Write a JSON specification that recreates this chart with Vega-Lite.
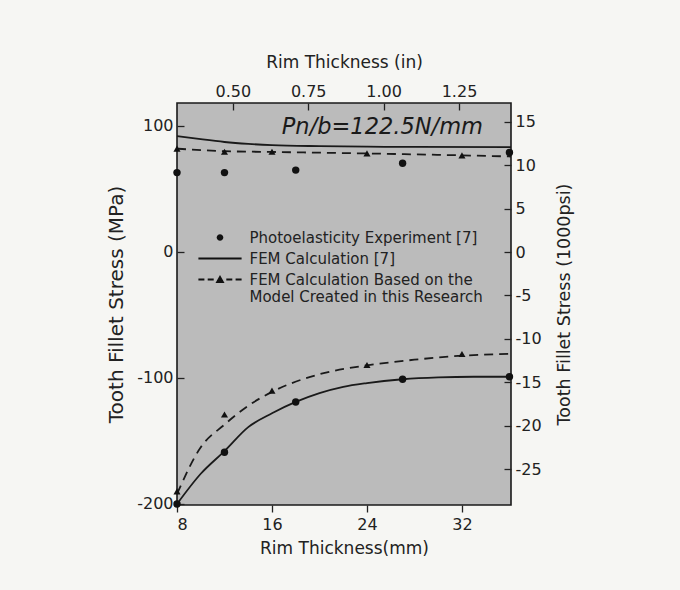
{
  "$schema": "https://vega.github.io/schema/vega-lite/v6.json",
  "width": 334,
  "height": 402,
  "autosize": {"type": "none"},
  "padding": {"left": 177, "top": 103, "right": 169, "bottom": 85},
  "background": "#f6f6f3",
  "config": {
    "view": {"fill": "#bbbbbb", "stroke": "#1a1a1a", "strokeWidth": 1.6},
    "font": "DejaVu Sans",
    "style": {"guide-label": {"lineHeight": 17}},
    "axis": {
      "domain": false, "grid": false, "ticks": true, "tickSize": 7, "offset": -7, "tickColor": "#222", "tickWidth": 1.3, "tickOpacity": 1, "zindex": 1,
      "labelFont": "DejaVu Sans", "labelFontSize": 16, "labelColor": "#222", "labelPadding": 4,
      "titleFont": "DejaVu Sans", "titleFontWeight": "normal", "titleColor": "#222"
    }
  },
  "datasets": {
    "curves": [
      {"series": "FEM Calculation [7]", "branch": "upper", "mm": 8, "mpa": 92},
      {"series": "FEM Calculation [7]", "branch": "upper", "mm": 10, "mpa": 89.5},
      {"series": "FEM Calculation [7]", "branch": "upper", "mm": 12, "mpa": 87.3},
      {"series": "FEM Calculation [7]", "branch": "upper", "mm": 14, "mpa": 85.8},
      {"series": "FEM Calculation [7]", "branch": "upper", "mm": 16, "mpa": 84.8},
      {"series": "FEM Calculation [7]", "branch": "upper", "mm": 20, "mpa": 84},
      {"series": "FEM Calculation [7]", "branch": "upper", "mm": 24, "mpa": 83.6},
      {"series": "FEM Calculation [7]", "branch": "upper", "mm": 28, "mpa": 83.4},
      {"series": "FEM Calculation [7]", "branch": "upper", "mm": 36.13, "mpa": 83.3},
      {"series": "FEM Calculation [7]", "branch": "lower", "mm": 8, "mpa": -200},
      {"series": "FEM Calculation [7]", "branch": "lower", "mm": 10, "mpa": -176},
      {"series": "FEM Calculation [7]", "branch": "lower", "mm": 12, "mpa": -158},
      {"series": "FEM Calculation [7]", "branch": "lower", "mm": 14, "mpa": -139},
      {"series": "FEM Calculation [7]", "branch": "lower", "mm": 16, "mpa": -128},
      {"series": "FEM Calculation [7]", "branch": "lower", "mm": 18, "mpa": -119},
      {"series": "FEM Calculation [7]", "branch": "lower", "mm": 20, "mpa": -112},
      {"series": "FEM Calculation [7]", "branch": "lower", "mm": 22, "mpa": -107},
      {"series": "FEM Calculation [7]", "branch": "lower", "mm": 24, "mpa": -104},
      {"series": "FEM Calculation [7]", "branch": "lower", "mm": 27, "mpa": -101},
      {"series": "FEM Calculation [7]", "branch": "lower", "mm": 30, "mpa": -99.5},
      {"series": "FEM Calculation [7]", "branch": "lower", "mm": 33, "mpa": -99},
      {"series": "FEM Calculation [7]", "branch": "lower", "mm": 36.13, "mpa": -99},
      {"series": "FEM Calculation Based on the Model Created in this Research", "branch": "upper", "mm": 8, "mpa": 82},
      {"series": "FEM Calculation Based on the Model Created in this Research", "branch": "upper", "mm": 12, "mpa": 80},
      {"series": "FEM Calculation Based on the Model Created in this Research", "branch": "upper", "mm": 16, "mpa": 79.4},
      {"series": "FEM Calculation Based on the Model Created in this Research", "branch": "upper", "mm": 24, "mpa": 78.2},
      {"series": "FEM Calculation Based on the Model Created in this Research", "branch": "upper", "mm": 32, "mpa": 76.7},
      {"series": "FEM Calculation Based on the Model Created in this Research", "branch": "upper", "mm": 36.13, "mpa": 75.8},
      {"series": "FEM Calculation Based on the Model Created in this Research", "branch": "lower", "mm": 8, "mpa": -192},
      {"series": "FEM Calculation Based on the Model Created in this Research", "branch": "lower", "mm": 10, "mpa": -155},
      {"series": "FEM Calculation Based on the Model Created in this Research", "branch": "lower", "mm": 12, "mpa": -137},
      {"series": "FEM Calculation Based on the Model Created in this Research", "branch": "lower", "mm": 14, "mpa": -122},
      {"series": "FEM Calculation Based on the Model Created in this Research", "branch": "lower", "mm": 16, "mpa": -111},
      {"series": "FEM Calculation Based on the Model Created in this Research", "branch": "lower", "mm": 20, "mpa": -97},
      {"series": "FEM Calculation Based on the Model Created in this Research", "branch": "lower", "mm": 24, "mpa": -90},
      {"series": "FEM Calculation Based on the Model Created in this Research", "branch": "lower", "mm": 28, "mpa": -85.5},
      {"series": "FEM Calculation Based on the Model Created in this Research", "branch": "lower", "mm": 32, "mpa": -82.3},
      {"series": "FEM Calculation Based on the Model Created in this Research", "branch": "lower", "mm": 36.13, "mpa": -80.8}
    ],
    "photo": [
      {"mm": 8, "mpa": 63}, {"mm": 12, "mpa": 63}, {"mm": 18, "mpa": 65}, {"mm": 27, "mpa": 70.4}, {"mm": 36, "mpa": 79},
      {"mm": 8, "mpa": -200}, {"mm": 12, "mpa": -159}, {"mm": 18, "mpa": -119}, {"mm": 27, "mpa": -101}, {"mm": 36, "mpa": -99}
    ],
    "research": [
      {"mm": 8, "mpa": 82}, {"mm": 12, "mpa": 79.6}, {"mm": 16, "mpa": 79.6}, {"mm": 24, "mpa": 78.3}, {"mm": 32, "mpa": 76.7},
      {"mm": 8, "mpa": -190}, {"mm": 12, "mpa": -129}, {"mm": 16, "mpa": -110}, {"mm": 24, "mpa": -89.7}, {"mm": 32, "mpa": -81}
    ],
    "note": [
      {"label": "Pn/b=122.5N/mm", "mm": 25.3, "mpa": 99}
    ],
    "legendrows": [
      {"series": "Photoelasticity Experiment [7]", "inch": 0.5, "ksi": 0},
      {"series": "FEM Calculation [7]", "inch": 0.5, "ksi": 0},
      {"series": "FEM Calculation Based on the Model Created in this Research", "inch": 0.5, "ksi": 0}
    ],
    "mpaTicks": [{"mpa": 100}, {"mpa": 0}, {"mpa": -100}],
    "mmTicks": [{"mm": 16}, {"mm": 24}, {"mm": 32}],
    "ksiTicks": [{"ksi": 15}, {"ksi": 10}, {"ksi": 5}, {"ksi": 0}, {"ksi": -5}, {"ksi": -10}, {"ksi": -15}, {"ksi": -20}, {"ksi": -25}],
    "inchTicks": [{"inch": 0.5}, {"inch": 0.75}, {"inch": 1.0}, {"inch": 1.25}]
  },
  "layer": [
    {
      "encoding": {
        "x": {"field": "mm", "type": "quantitative", "scale": {"domain": [8, 36.13], "nice": false, "zero": false},
          "axis": {"orient": "bottom", "offset": 0, "values": [8, 16, 24, 32], "title": "Rim Thickness(mm)", "titleFontSize": 17, "titlePadding": 8}},
        "y": {"field": "mpa", "type": "quantitative", "scale": {"domain": [-200.8, 118.25], "nice": false, "zero": false},
          "axis": {"orient": "left", "values": [100, 0, -100, -200], "labelExpr": "datum.value + ''", "title": "Tooth Fillet Stress (MPa)", "titleFontSize": 20, "titlePadding": 10}}
      },
      "layer": [
        {
          "data": {"name": "curves"},
          "transform": [{"filter": "datum.series == 'FEM Calculation [7]'"}],
          "mark": {"type": "line", "interpolate": "monotone", "color": "#1a1a1a", "strokeWidth": 1.8},
          "encoding": {"detail": {"field": "branch"}}
        },
        {
          "data": {"name": "curves"},
          "transform": [{"filter": "datum.series != 'FEM Calculation [7]'"}],
          "mark": {"type": "line", "interpolate": "monotone", "color": "#1a1a1a", "strokeWidth": 1.8, "strokeDash": [9, 6]},
          "encoding": {"detail": {"field": "branch"}}
        },
        {
          "data": {"name": "photo"},
          "mark": {"type": "point", "shape": "circle", "filled": true, "size": 55, "color": "#111", "opacity": 1}
        },
        {
          "data": {"name": "research"},
          "mark": {"type": "point", "shape": "triangle-up", "filled": true, "size": 50, "color": "#111", "opacity": 1}
        },
        {
          "data": {"name": "note"},
          "mark": {"type": "text", "font": "DejaVu Sans", "fontStyle": "italic", "fontSize": 22.5, "color": "#1a1a1a"},
          "encoding": {
            "text": {"field": "label", "type": "nominal"}
          }
        },
        {
          "data": {"name": "mpaTicks"},
          "mark": {"type": "rule", "color": "#222", "strokeWidth": 1.3},
          "encoding": {"x": {"datum": 8}, "x2": {"datum": 8.55}}
        },
        {
          "data": {"name": "mmTicks"},
          "mark": {"type": "rule", "color": "#222", "strokeWidth": 1.3},
          "encoding": {"y": {"datum": -200.8}, "y2": {"datum": -194.8}}
        }
      ]
    },
    {
      "encoding": {
        "x": {"field": "inch", "type": "quantitative", "scale": {"domain": [0.31496, 1.42244], "nice": false, "zero": false},
          "axis": {"orient": "top", "values": [0.5, 0.75, 1, 1.25], "format": ".2f", "title": "Rim Thickness (in)", "titleFontSize": 17, "titlePadding": 12}},
        "y": {"field": "ksi", "type": "quantitative", "scale": {"domain": [-29.12, 17.15], "nice": false, "zero": false},
          "axis": {"orient": "right", "values": [15, 10, 5, 0, -5, -10, -15, -20, -25], "labelExpr": "datum.value + ''", "title": "Tooth Fillet Stress (1000psi)", "titleFontSize": 17.5, "titleAngle": 270, "titlePadding": 32}}
      },
      "layer": [
        {
          "data": {"name": "legendrows"},
          "mark": {"type": "point", "filled": true, "fill": "#111", "opacity": 0},
          "encoding": {
            "shape": {
              "field": "series", "type": "nominal",
              "scale": {
                "domain": ["Photoelasticity Experiment [7]", "FEM Calculation [7]", "FEM Calculation Based on the Model Created in this Research"],
                "range": [
                  "M-0.55,0A0.55,0.55,0,1,1,0.55,0A0.55,0.55,0,1,1,-0.55,0Z",
                  "M-3.6,-0.15H3.6V0.15H-3.6Z",
                  "M-3.6,-0.15H-2.6V0.15H-3.6ZM-2.05,-0.15H-1.05V0.15H-2.05ZM-0.75,0.6L0,-0.75L0.75,0.6ZM1.05,-0.15H2.05V0.15H1.05ZM2.6,-0.15H3.6V0.15H2.6Z"
                ]
              },
              "legend": {
                "orient": "none", "legendX": 35.5, "legendY": 127, "title": null,
                "labelFont": "DejaVu Sans", "labelFontSize": 15, "labelColor": "#222", "labelLimit": 0, "labelOffset": 22,
                "rowPadding": 5, "symbolSize": 144, "symbolStrokeWidth": 0, "symbolOpacity": 1,
                "symbolFillColor": "#111", "symbolStrokeColor": "#111",
                "labelExpr": "datum.value == 'FEM Calculation Based on the Model Created in this Research' ? ['FEM Calculation Based on the', 'Model Created in this Research'] : datum.label"
              }
            }
          }
        },
        {
          "data": {"name": "ksiTicks"},
          "mark": {"type": "rule", "color": "#222", "strokeWidth": 1.3},
          "encoding": {"x": {"datum": 1.3992}, "x2": {"datum": 1.42244}}
        },
        {
          "data": {"name": "inchTicks"},
          "mark": {"type": "rule", "color": "#222", "strokeWidth": 1.3},
          "encoding": {"y": {"datum": 16.34}, "y2": {"datum": 17.15}}
        }
      ]
    }
  ],
  "resolve": {"scale": {"x": "independent", "y": "independent"}}
}
